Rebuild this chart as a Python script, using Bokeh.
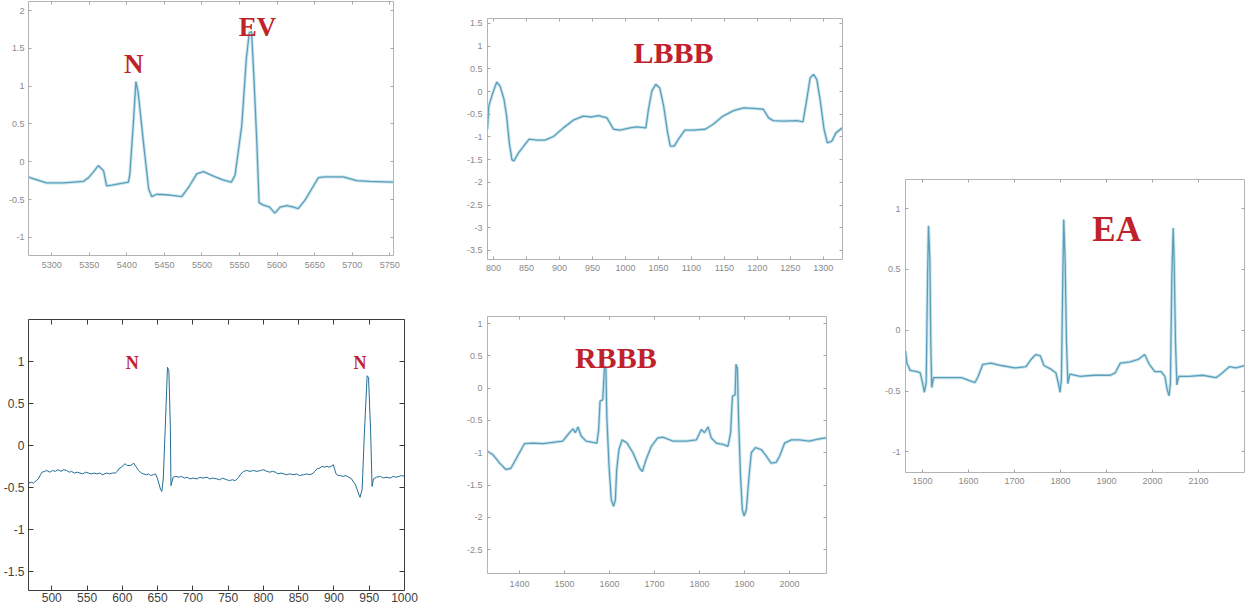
from bokeh.plotting import figure
from bokeh.models import Range1d, FixedTicker, LinearAxis, Label, ColumnDataSource
from bokeh.layouts import row, column
from bokeh.embed import file_html
from bokeh.resources import INLINE

# ---------------- data ----------------
# Panel A : N + EV
ev_x = [5269, 5271, 5293, 5316, 5342, 5349, 5355, 5362, 5369, 5373, 5380, 5402, 5404, 5409,
        5412, 5415, 5422, 5429, 5433, 5440, 5457, 5473, 5482, 5493, 5502, 5513, 5528, 5539,
        5544, 5553, 5559, 5563, 5566, 5569, 5573, 5576, 5581, 5590, 5597, 5604, 5613, 5622,
        5628, 5637, 5646, 5655, 5663, 5688, 5706, 5723, 5755]
ev_y = [-0.20, -0.21, -0.28, -0.28, -0.26, -0.21, -0.14, -0.05, -0.12, -0.32, -0.31, -0.27,
        -0.16, 0.57, 1.06, 0.92, 0.26, -0.36, -0.46, -0.43, -0.44, -0.46, -0.34, -0.16, -0.13,
        -0.18, -0.24, -0.27, -0.18, 0.48, 1.36, 1.71, 1.72, 1.14, 0.26, -0.54, -0.57, -0.60,
        -0.68, -0.60, -0.58, -0.60, -0.62, -0.51, -0.36, -0.21, -0.20, -0.20, -0.25, -0.26,
        -0.27]

# Panel B : LBBB
lbbb_x = [791, 793, 799, 805, 810, 816, 820, 824, 828, 831, 838, 845, 854, 866, 878, 891, 906,
          921, 936, 949, 959, 972, 982, 992, 1007, 1017, 1031, 1035, 1040, 1046, 1052, 1058,
          1064, 1068, 1074, 1080, 1090, 1103, 1121, 1133, 1148, 1164, 1179, 1194, 1209, 1217,
          1224, 1239, 1260, 1269, 1274, 1280, 1285, 1290, 1295, 1301, 1306, 1313, 1319, 1329]
lbbb_y = [-0.83, -0.32, -0.03, 0.21, 0.12, -0.17, -0.54, -1.13, -1.50, -1.53, -1.35, -1.22,
          -1.05, -1.07, -1.07, -0.99, -0.80, -0.63, -0.54, -0.56, -0.53, -0.58, -0.83, -0.85,
          -0.80, -0.78, -0.80, -0.39, 0.01, 0.16, 0.08, -0.32, -0.91, -1.20, -1.20, -1.06,
          -0.85, -0.85, -0.83, -0.72, -0.54, -0.42, -0.36, -0.37, -0.39, -0.58, -0.64, -0.65,
          -0.64, -0.67, -0.25, 0.30, 0.38, 0.27, -0.17, -0.83, -1.13, -1.09, -0.91, -0.80]

# Panel C : N N
n_x = [467, 471, 474, 478, 481, 484, 486, 490, 493, 497, 501, 505, 509, 513, 517, 521, 525,
       528, 532, 536, 540, 544, 548, 552, 556, 560, 564, 568, 572, 578, 582, 586, 590, 593,
       595, 599, 602, 604, 607, 611, 614, 616, 619, 623, 627, 630, 634, 637, 640, 644, 647,
       650, 652, 654, 656, 658, 661, 664, 666, 668, 669, 672, 676, 680, 684, 688, 692, 696,
       700, 706, 710, 714, 720, 724, 728, 734, 738, 742, 748, 752, 756, 760, 765, 768, 772,
       776, 781, 786, 791, 796, 800, 805, 809, 813, 817, 821, 825, 829, 833, 837, 843, 847,
       851, 857, 861, 865, 869, 873, 876, 880, 883, 887, 890, 893, 896, 899, 903, 906, 909,
       913, 917, 921, 925, 928, 930, 933, 935, 937, 940, 943, 947, 949, 952, 954, 956, 960,
       966, 970, 974, 980, 984, 988, 992, 996, 1000]
n_y = [-0.45, -0.44, -0.45, -0.42, -0.40, -0.35, -0.32, -0.31, -0.30, -0.32, -0.30, -0.31,
       -0.29, -0.31, -0.29, -0.30, -0.32, -0.31, -0.33, -0.32, -0.33, -0.34, -0.32, -0.33,
       -0.34, -0.33, -0.34, -0.33, -0.35, -0.33, -0.34, -0.33, -0.33, -0.31, -0.28, -0.26,
       -0.23, -0.22, -0.24, -0.24, -0.23, -0.21, -0.25, -0.30, -0.33, -0.34, -0.35, -0.34,
       -0.36, -0.35, -0.34, -0.40, -0.46, -0.52, -0.55, -0.40, 0.24, 0.93, 0.89, 0.24, -0.48,
       -0.38, -0.37, -0.38, -0.37, -0.39, -0.38, -0.40, -0.39, -0.40, -0.38, -0.39, -0.38,
       -0.40, -0.39, -0.40, -0.41, -0.39, -0.41, -0.42, -0.41, -0.42, -0.38, -0.34, -0.31,
       -0.30, -0.31, -0.30, -0.31, -0.30, -0.29, -0.31, -0.32, -0.31, -0.32, -0.34, -0.33,
       -0.34, -0.35, -0.34, -0.35, -0.34, -0.36, -0.35, -0.34, -0.35, -0.34, -0.31, -0.28,
       -0.27, -0.25, -0.26, -0.25, -0.26, -0.25, -0.23, -0.34, -0.36, -0.36, -0.37, -0.36,
       -0.38, -0.40, -0.44, -0.46, -0.53, -0.58, -0.62, -0.52, 0.12, 0.83, 0.81, 0.16, -0.49,
       -0.40, -0.38, -0.37, -0.39, -0.38, -0.39, -0.37, -0.38, -0.37, -0.36, -0.37]

# Panel D : RBBB
rbbb_x = [1330, 1341, 1356, 1370, 1381, 1396, 1411, 1430, 1452, 1474, 1496, 1511, 1519, 1524,
          1530, 1537, 1548, 1563, 1572, 1576, 1579, 1585, 1589, 1592, 1594, 1599, 1604, 1609,
          1613, 1616, 1621, 1628, 1639, 1652, 1667, 1673, 1681, 1693, 1707, 1719, 1741, 1770,
          1793, 1804, 1811, 1819, 1826, 1837, 1852, 1863, 1869, 1873, 1879, 1881, 1884, 1887,
          1891, 1895, 1899, 1904, 1910, 1915, 1924, 1937, 1948, 1959, 1970, 1978, 1989, 2004,
          2022, 2044, 2063, 2081]
rbbb_y = [-0.98, -1.03, -1.16, -1.26, -1.24, -1.05, -0.86, -0.85, -0.86, -0.84, -0.82, -0.69,
          -0.63, -0.69, -0.60, -0.74, -0.82, -0.84, -0.85, -0.64, -0.20, -0.18, 0.34, 0.31,
          -0.44, -1.21, -1.73, -1.83, -1.73, -1.26, -0.95, -0.80, -0.85, -1.00, -1.24, -1.29,
          -1.11, -0.90, -0.77, -0.76, -0.82, -0.82, -0.80, -0.64, -0.69, -0.60, -0.77, -0.85,
          -0.87, -0.90, -0.69, -0.13, -0.10, 0.37, 0.31, -0.54, -1.36, -1.88, -1.98, -1.88,
          -1.36, -1.00, -0.92, -0.95, -1.05, -1.16, -1.15, -1.05, -0.85, -0.80, -0.80, -0.82,
          -0.79, -0.77]

# Panel E : EA
ea_x = [1463, 1466, 1473, 1488, 1495, 1500, 1504, 1508, 1511, 1513, 1516, 1518, 1520, 1524,
        1542, 1563, 1585, 1599, 1614, 1621, 1631, 1649, 1671, 1700, 1725, 1736, 1746, 1756,
        1764, 1779, 1790, 1795, 1799, 1802, 1805, 1807, 1810, 1813, 1816, 1820, 1843, 1872,
        1908, 1919, 1930, 1951, 1969, 1983, 1993, 2005, 2019, 2027, 2032, 2036, 2039, 2042,
        2045, 2047, 2050, 2053, 2057, 2080, 2109, 2138, 2149, 2167, 2181, 2200]
ea_y = [-0.17, -0.27, -0.33, -0.34, -0.35, -0.43, -0.51, -0.43, 0.44, 0.86, 0.58, -0.10,
        -0.47, -0.39, -0.39, -0.39, -0.39, -0.41, -0.43, -0.38, -0.28, -0.27, -0.29, -0.31,
        -0.30, -0.24, -0.20, -0.21, -0.29, -0.32, -0.35, -0.43, -0.51, -0.40, 0.44, 0.91,
        0.58, -0.10, -0.44, -0.36, -0.38, -0.37, -0.37, -0.35, -0.27, -0.26, -0.24, -0.20,
        -0.28, -0.34, -0.34, -0.38, -0.49, -0.54, -0.43, 0.44, 0.84, 0.58, -0.10, -0.45,
        -0.38, -0.38, -0.37, -0.39, -0.36, -0.30, -0.31, -0.29]

# tick values and labels
a_xt = [5300, 5350, 5400, 5450, 5500, 5550, 5600, 5650, 5700, 5750]
a_xl = ["5300", "5350", "5400", "5450", "5500", "5550", "5600", "5650", "5700", "5750"]
a_yt = [-1, -0.5, 0, 0.5, 1, 1.5, 2]
a_yl = ["-1", "-0.5", "0", "0.5", "1", "1.5", "2"]

b_xt = [800, 850, 900, 950, 1000, 1050, 1100, 1150, 1200, 1250, 1300]
b_xl = ["800", "850", "900", "950", "1000", "1050", "1100", "1150", "1200", "1250", "1300"]
b_yt = [-3.5, -3, -2.5, -2, -1.5, -1, -0.5, 0, 0.5, 1, 1.5]
b_yl = ["-3.5", "-3", "-2.5", "-2", "-1.5", "-1", "-0.5", "0", "0.5", "1", "1.5"]

c_xt = [500, 550, 600, 650, 700, 750, 800, 850, 900, 950, 1000]
c_xl = ["500", "550", "600", "650", "700", "750", "800", "850", "900", "950", "1000"]
c_yt = [-1.5, -1, -0.5, 0, 0.5, 1]
c_yl = ["-1.5", "-1", "-0.5", "0", "0.5", "1"]

d_xt = [1400, 1500, 1600, 1700, 1800, 1900, 2000]
d_xl = ["1400", "1500", "1600", "1700", "1800", "1900", "2000"]
d_yt = [-2.5, -2, -1.5, -1, -0.5, 0, 0.5, 1]
d_yl = ["-2.5", "-2", "-1.5", "-1", "-0.5", "0", "0.5", "1"]

e_xt = [1500, 1600, 1700, 1800, 1900, 2000, 2100]
e_xl = ["1500", "1600", "1700", "1800", "1900", "2000", "2100"]
e_yt = [-1, -0.5, 0, 0.5, 1]
e_yl = ["-1", "-0.5", "0", "0.5", "1"]

# ---------------- styles ----------------
BLUR = dict(frame="#b3b3b3", tick="#a6a6a6", lab="#8a8a8a", fs="9px", tl=3,
            halo="#c9e5ee", halo_w=3.2, core="#5d9fba", core_w=1.3)
SHARP = dict(frame="#3c3c3c", tick="#3c3c3c", lab="#404040", fs="12px", tl=5,
             halo=None, halo_w=0, core="#236e96", core_w=1.0)
RED = "#c0222b"


def style_axis(ax, ticks, labels, st, show, standoff):
    ax.ticker = FixedTicker(ticks=ticks, minor_ticks=[])
    ax.axis_line_color = None
    ax.major_tick_in = st["tl"]
    ax.major_tick_out = 0
    ax.major_tick_line_color = st["tick"]
    ax.minor_tick_line_color = None
    ax.axis_label = None
    if show:
        ax.major_label_overrides = {t: l for t, l in zip(ticks, labels)}
        ax.major_label_text_font_size = st["fs"]
        ax.major_label_text_color = st["lab"]
        ax.major_label_text_font = "Liberation Sans"
        ax.major_label_standoff = standoff
    else:
        ax.major_label_overrides = {t: "" for t in ticks}
        ax.major_label_text_font_size = "0px"
        ax.major_label_standoff = 0


def make_panel(xs, ys, xr, yr, xt, xl, yt, yl, fw, fh, bl, br, bt, bb, st, xso, yso):
    p = figure(frame_width=fw, frame_height=fh,
               x_range=Range1d(*xr), y_range=Range1d(*yr),
               output_backend="svg", toolbar_location=None,
               min_border_left=bl, min_border_right=br,
               min_border_top=bt, min_border_bottom=bb)
    p.grid.visible = False
    p.outline_line_color = st["frame"]
    p.outline_line_width = 1
    p.background_fill_color = "white"
    p.border_fill_color = "white"
    style_axis(p.xaxis[0], xt, xl, st, True, xso)
    style_axis(p.yaxis[0], yt, yl, st, True, yso)
    top = LinearAxis()
    style_axis(top, xt, xl, st, False, 0)
    p.add_layout(top, "above")
    right = LinearAxis()
    style_axis(right, yt, yl, st, False, 0)
    p.add_layout(right, "right")
    src = ColumnDataSource(dict(x=xs, y=ys))
    if st["halo"]:
        p.line("x", "y", source=src, line_color=st["halo"], line_width=st["halo_w"])
    p.line("x", "y", source=src, line_color=st["core"], line_width=st["core_w"])
    return p


def tag(p, x, y, text, size):
    p.add_layout(Label(x=x, y=y, text=text, text_font="Liberation Serif",
                       text_font_style="bold", text_font_size=size, text_color=RED,
                       text_align="center", text_baseline="alphabetic"))


pa = make_panel(ev_x, ev_y, (5269, 5755), (-1.24, 2.12), a_xt, a_xl, a_yt, a_yl,
                365, 254, 24, 33, 1, 54, BLUR, 6, 4)
tag(pa, 5409, 1.29, "N", "27px")
tag(pa, 5574, 1.78, "EV", "27px")

pc = make_panel(n_x, n_y, (467, 1000), (-1.73, 1.5), c_xt, c_xl, c_yt, c_yl,
                376, 271, 24, 22, 10, 17, SHARP, 2, 4)
tag(pc, 614, 0.98, "N", "18px")
tag(pc, 937, 0.98, "N", "18px")

pb = make_panel(lbbb_x, lbbb_y, (791, 1329), (-3.7, 1.61), b_xt, b_xl, b_yt, b_yl,
                355, 241, 41, 34, 18, 47, BLUR, 5, 5)
tag(pb, 1073, 0.85, "LBBB", "30px")

pd = make_panel(rbbb_x, rbbb_y, (1329, 2082), (-2.87, 1.11), d_xt, d_xl, d_yt, d_yl,
                339, 257, 61, 30, 10, 34, BLUR, 7, 5)
tag(pd, 1614, 0.48, "RBBB", "30px")

pe = make_panel(ea_x, ea_y, (1463, 2200), (-1.17, 1.24), e_xt, e_xl, e_yt, e_yl,
                339, 293, 49, 1, 179, 25, BLUR, 5, 5)
tag(pe, 1922, 0.83, "EA", "35px")

layout = row(column(pa, pc), column(pb, pd), column(pe))

open("out.html", "w").write(file_html(layout, INLINE))
